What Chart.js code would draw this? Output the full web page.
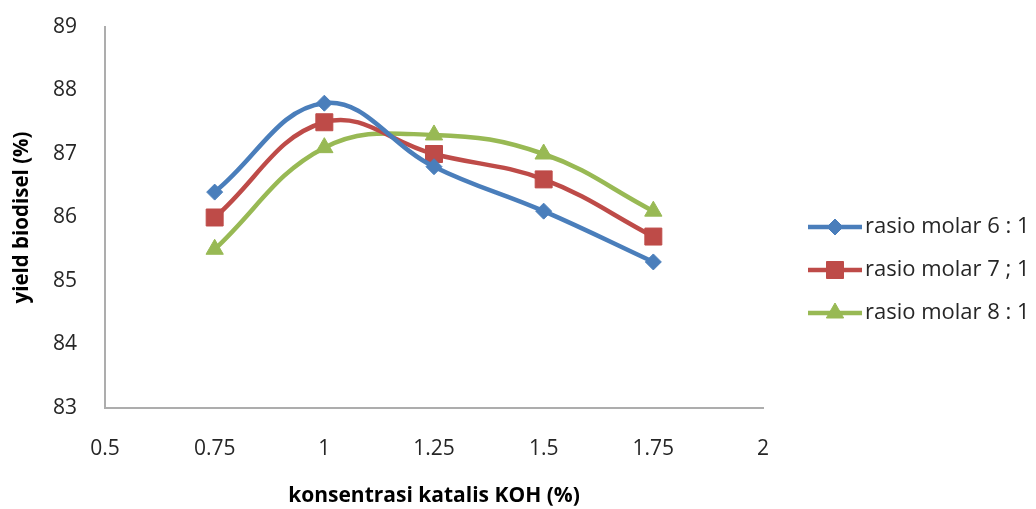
<!DOCTYPE html>
<html>
<head>
<meta charset="utf-8">
<script src="https://cdn.jsdelivr.net/npm/chart.js@4/dist/chart.umd.min.js"></script>
<style>
  html, body { margin: 0; padding: 0; background: #fff; }
  #wrap { width: 1036px; height: 509px; }
</style>
</head>
<body>
<div id="wrap"><canvas id="c" width="1036" height="509"></canvas></div>
<script>
// KOH catalyst concentration (%)
const konsentrasi = [0.75, 1, 1.25, 1.5, 1.75];
// Biodiesel yield (%) per methanol:oil molar ratio
const rasio6 = [86.4, 87.8, 86.8, 86.1, 85.3];
const rasio7 = [86.0, 87.5, 87.0, 86.6, 85.7];
const rasio8 = [85.5, 87.1, 87.3, 87.0, 86.1];
const seriesNames = ['rasio molar 6 : 1', 'rasio molar 7 ; 1', 'rasio molar 8 : 1'];
const xTicks = [0.5, 0.75, 1, 1.25, 1.5, 1.75, 2];
const xTickLabels = ['0.5', '0.75', '1', '1.25', '1.5', '1.75', '2'];
const yTicks = [83, 84, 85, 86, 87, 88, 89];

const FONT = "'Open Sans', 'Liberation Sans', sans-serif";
const TEXT = '#262626';

function pts(ys) { return konsentrasi.map((x, i) => ({ x: x, y: ys[i] })); }

const styles = [
  { color: '#4A7EBB', point: 'rectRot', radius: 8 },
  { color: '#BE4B48', point: 'rect', radius: 12 },
  { color: '#98B954', point: 'triangle', radius: 10 }
];

const datasets = [rasio6, rasio7, rasio8].map((ys, i) => ({
  label: seriesNames[i],
  data: pts(ys),
  borderColor: styles[i].color,
  backgroundColor: styles[i].color,
  borderWidth: 4.5,
  pointStyle: styles[i].point,
  pointRadius: styles[i].radius,
  pointHoverRadius: styles[i].radius,
  pointBorderWidth: 1,
  pointBorderColor: styles[i].color,
  tension: 0.4,
  fill: false
}));

// Legend at the right: line with marker, then the series name
const sideLegend = {
  id: 'sideLegend',
  afterDraw(chart) {
    const ctx = chart.ctx;
    const x0 = 808, x1 = 862, yStart = 227, gap = 43;
    chart.data.datasets.forEach((ds, i) => {
      const y = yStart + i * gap;
      ctx.save();
      ctx.strokeStyle = ds.borderColor;
      ctx.lineWidth = 4.5;
      ctx.beginPath();
      ctx.moveTo(x0, y);
      ctx.lineTo(x1, y);
      ctx.stroke();
      ctx.fillStyle = ds.backgroundColor;
      ctx.strokeStyle = ds.borderColor;
      ctx.lineWidth = 1;
      Chart.helpers.drawPoint(ctx, { pointStyle: ds.pointStyle, radius: ds.pointRadius, rotation: 0, borderWidth: 1 }, (x0 + x1) / 2, y);
      ctx.fillStyle = TEXT;
      ctx.font = '22px ' + FONT;
      ctx.textAlign = 'left';
      ctx.textBaseline = 'middle';
      ctx.fillText(ds.label, x1 + 3, y);
      ctx.restore();
    });
  }
};

new Chart(document.getElementById('c'), {
  type: 'line',
  data: { datasets: datasets },
  plugins: [sideLegend],
  options: {
    responsive: false,
    animation: false,
    devicePixelRatio: 1,
    layout: { padding: { top: 27, right: 273, left: 0, bottom: 0 } },
    plugins: { legend: { display: false }, tooltip: { enabled: false } },
    scales: {
      x: {
        type: 'linear',
        min: 0.5, max: 2,
        afterBuildTicks(scale) { scale.ticks = xTicks.map(v => ({ value: v })); },
        afterFit(scale) { scale.height = 101; scale.paddingLeft = 0; scale.paddingRight = 0; },
        grid: { display: false },
        border: { display: true, color: '#ADADAD', width: 2 },
        ticks: {
          color: TEXT, font: { family: FONT, size: 21 }, padding: 20, maxRotation: 0, autoSkip: false,
          callback: (v) => xTickLabels[xTicks.indexOf(v)]
        },
        title: { display: true, text: 'konsentrasi katalis KOH (%)', color: '#000', font: { family: FONT, size: 21, weight: 'bold' }, padding: { top: 4, bottom: 0 } }
      },
      y: {
        min: 83, max: 89,
        afterBuildTicks(scale) { scale.ticks = yTicks.map(v => ({ value: v })); },
        afterFit(scale) { scale.width = 105; scale.paddingTop = 0; scale.paddingBottom = 0; },
        grid: { display: false },
        border: { display: true, color: '#ADADAD', width: 2 },
        ticks: { color: TEXT, font: { family: FONT, size: 21 }, padding: 20 },
        title: { display: true, text: 'yield biodisel (%)', color: '#000', font: { family: FONT, size: 20.5, weight: 'bold' }, padding: { top: 10, bottom: 0 } }
      }
    }
  }
});
</script>
</body>
</html>
